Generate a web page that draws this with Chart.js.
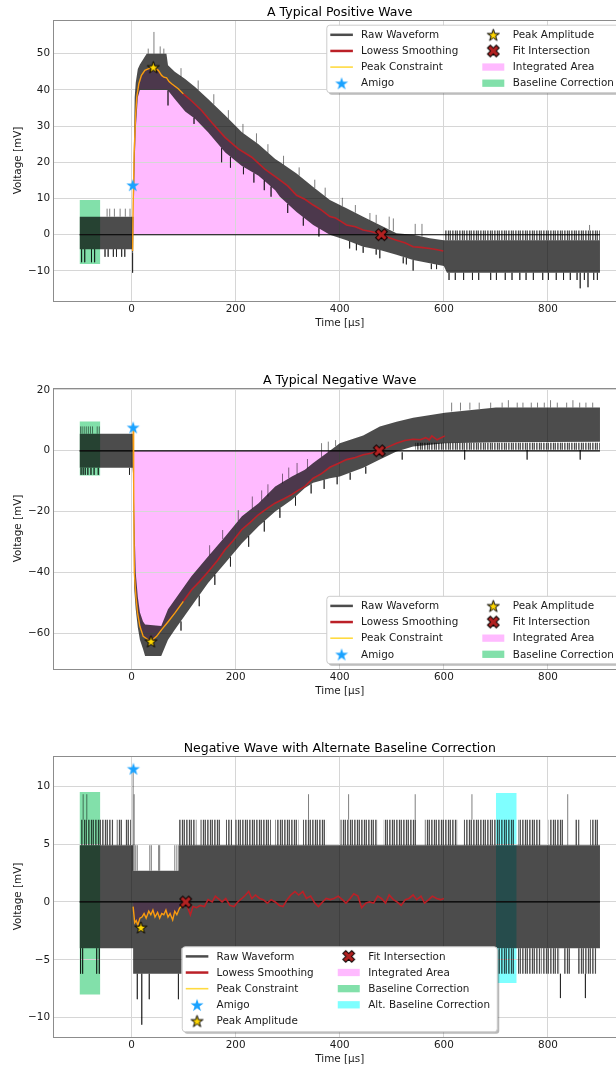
<!DOCTYPE html>
<html lang="en">
<head>
<meta charset="UTF-8">
<title>Waveform Analysis</title>
<script src="https://cdn.jsdelivr.net/npm/chart.js"></script>
<style>
  html, body { margin: 0; padding: 0; background: #fff; overflow: hidden; }
  #page { position: relative; width: 616px; height: 1068px; overflow: hidden; }
  #page canvas { position: absolute; left: 0; }
</style>
</head>
<body>
<div id="page">
  <canvas id="posChart" width="640" height="333" style="top:0px"></canvas>
  <canvas id="negChart" width="640" height="341" style="top:360px"></canvas>
  <canvas id="altChart" width="640" height="339" style="top:730px"></canvas>
</div>
<script>
// ---------- A Typical Positive Wave ----------
const posYTicks = [-10, 0, 10, 20, 30, 40, 50];
const posBandT  = [-100, 1, 2, 3, 4, 6, 8, 12, 16, 29, 67, 70, 83, 103, 122, 147, 180, 212, 244, 276, 285, 317, 349, 381, 413, 445, 477, 509, 541, 573, 600, 606, 900];
const posBandLo = [-4, -4, -5, -5, 5, 20, 29, 38, 40, 40, 40, 39.8, 37.5, 34, 32, 28.3, 22.7, 19, 16.3, 12.3, 10.5, 6.3, 2.7, 0, -1.5, -3.3, -4.2, -5.5, -7, -7.9, -8.6, -10.5, -10.5];
const posBandHi = [5, 5, 5, 5, 20, 38, 42, 45.8, 47, 50, 50, 46.8, 45, 43, 40.8, 37.5, 32.9, 28.3, 25, 20.9, 20.1, 16.9, 13.2, 9.6, 7.3, 5, 2.7, 0.4, 0, -1, -1.5, -1.5, -1.5];
const posConstraintT = [2, 3, 5, 7.7, 10, 14, 19, 25.6, 32, 41.7, 51.3, 57.7, 62, 67.3, 72, 77, 89.7, 99.4];
const posConstraintV = [-4.5, 8, 22.7, 32.9, 38, 41.7, 44, 45.4, 45.8, 46.3, 45.4, 44, 43.5, 43.3, 42.3, 41.7, 40.3, 38.9];
const posLowessT = [99.4, 115, 134.6, 154, 179.5, 205, 231, 256, 282, 300, 317, 333, 349, 365, 381, 392, 400, 413, 430, 445, 462, 480, 495, 509, 525, 541, 556, 573, 585, 599];
const posLowessV = [38.9, 37, 34.3, 31, 26.9, 23.7, 21.4, 18.1, 15.4, 13.5, 10.9, 9.8, 8.2, 6.8, 5, 4.6, 3.9, 2.7, 2.2, 1.3, 0.8, 0, -0.8, -1.5, -2.2, -3.3, -3.5, -3.8, -4.1, -4.5];
// [time, from, to] of the single noise spikes that stick out of the band
const posSpikes = [
  [-96, -4, -7.6], [-90, -4, -7.6], [-77, -4, -7.6], [-71, -4, -7.6],
  [-51, -4, -6.1], [-45, -4, -6.1], [-35, -4, -6.1], [-29, -4, -6.1], [-19, -4, -6.1], [-13, -4, -6.1],
  [-47, 5, 7.2], [-42, 5, 7.2], [-33, 5, 7.2], [-22, 5, 7.2], [-12, 5, 7.2], [-3, 5, 7.2],
  [2, -5, -10.5],
  [32, 50, 51.4], [43, 50, 56], [55, 50, 52], [62, 50, 51.4],
  [95, 43.6, 46], [128, 40, 42.6], [158, 36, 38.8], [186, 32, 34.4], [214, 28, 30.6], [240, 25.4, 28],
  [262, 22.6, 25], [292, 19.3, 21.8], [322, 16.3, 18.6], [352, 12.9, 15.2], [372, 10.6, 13], [405, 7.9, 10.2],
  [430, 6.1, 8.2], [458, 4, 6], [470, 3.2, 5.5],
  [70, 39.8, 35.7], [120, 32.3, 30.6], [173, 23.9, 20], [190, 21.5, 18.5], [215, 18.7, 16.7], [235, 17, 14.4],
  [255, 15, 12.3], [268, 13.3, 10.5], [300, 8.5, 6], [330, 4.8, 2.5], [360, 1.8, -0.5],
  [419, -1.8, -3.8], [432, -2.5, -4.3], [445, -3.3, -5], [470, -4, -5.5], [477, -4.2, -6.5], [522, -6.2, -7.9],
  [528, -6.4, -8.2], [541, -7, -9.9], [576, -8, -9.5], [586, -8.2, -9.5],
  [495, 1.5, 5], [503, 1, 4.5], [545, 0, 3], [558, -0.5, 3], [880, 1.2, 2.7],
  [610, -10.5, -12.5], [622, -10.5, -12.5], [638, -10.5, -12.5], [655, -10.5, -12.5], [667, -10.5, -12.5],
  [690, -10.5, -12.5], [701, -10.5, -12.5], [718, -10.5, -12.5], [731, -10.5, -12.5], [746, -10.5, -12.5],
  [758, -10.5, -12.5], [772, -10.5, -12.5], [790, -10.5, -12.5], [801, -10.5, -12.5], [816, -10.5, -12.5],
  [830, -10.5, -12.5], [843, -10.5, -12.5], [856, -10.5, -12.5], [870, -10.5, -12.5], [888, -10.5, -12.5],
  [895, -10.5, -12.5], [862, -10.5, -14.8], [877, -10.5, -14.5]
];
// dense spike zones: [start, end, edge, base]
const posZones = [[600, 900, 1.2, -1.5]];
const posAmigo = [2.3, 13.7];
const posPeak = [41.7, 46.3];
const posFit = [480, 0];
const posBaseline = [-100, -60, -8.1, 9.6];

// ---------- A Typical Negative Wave ----------
const negYTicks = [-60, -40, -20, 0, 20];
const negBandT  = [-100, 2, 3, 5, 8, 12, 16, 22, 26, 57, 70, 83, 115, 147, 180, 212, 244, 276, 308, 333, 349, 381, 400, 445, 477, 509, 541, 602, 700, 900];
const negBandLo = [-5.6, -5.6, -8, -45, -52, -58, -62, -65, -67.3, -67.3, -62, -58.7, -51, -43.4, -36.8, -30.3, -24.8, -19.9, -16.1, -12.2, -10.5, -9, -8.4, -5.6, -2.9, -0.2, 1.4, 2.5, 2.8, 3];
const negBandHi = [5.6, 5.6, 5.6, -20, -40, -48, -53, -56, -57, -57.5, -52, -48.9, -41.2, -34.7, -28.1, -21.5, -17.2, -11.7, -8.4, -6.2, -4, 0, 2.5, 5, 8, 9.5, 10.8, 12.5, 14.2, 14.2];
const negConstraintT = [3, 4, 5.3, 8.3, 11.5, 16, 22.4, 32, 37.3, 48, 57.8, 70.6, 83.4, 99.4];
const negConstraintV = [7.5, -10, -40, -47.8, -53.2, -57.6, -60.9, -62, -62.5, -60.9, -58.7, -56, -53.2, -49.4];
const negLowessT = [99.4, 115.4, 130, 147.5, 165, 179.5, 195, 211.5, 228, 243.5, 260, 275.5, 292, 307.5, 320, 333, 349, 365, 381, 397, 413, 430, 445, 460, 476, 492, 509, 525, 541, 555, 565, 572, 577, 587, 602];
const negLowessV = [-49.4, -45.6, -43, -39.6, -36, -32.5, -29.5, -25.9, -23.5, -21, -19, -17.2, -15.8, -14.4, -13, -11.7, -9, -7.5, -5.4, -4.2, -2.9, -2.2, -1.3, -0.8, 0, 1.2, 2.5, 3.4, 3.8, 3.6, 4.3, 3.6, 4.9, 3.6, 4.9];
const negSpikes = [
  [-98, 5.6, 8], [-95, 5.6, 8], [-91, 5.6, 8], [-87, 5.6, 8], [-83, 5.6, 8], [-79, 5.6, 8], [-75, 5.6, 8], [-66, 5.6, 8], [-62, 5.6, 8],
  [-97, -5.6, -7.9], [-93, -5.6, -7.9], [-89, -5.6, -7.9], [-84, -5.6, -7.9], [-78, -5.6, -7.9], [-72, -5.6, -7.9], [-64, -5.6, -7.9], [-4, -5.6, -7.9],
  [150, -34.3, -31], [175, -29, -26], [205, -23, -19.5], [232, -19, -15], [250, -16.4, -13], [262, -15, -11],
  [290, -10.7, -7.5], [302, -9, -5.5], [318, -7.8, -4], [338, -5.8, -2.7], [365, -2, 2.5], [378, -0.5, 3], [392, 1.5, 3.5],
  [95, -56, -59], [130, -47.5, -51], [160, -40.7, -44], [190, -34.8, -38], [225, -28, -31.5], [255, -23, -26.5],
  [285, -18.8, -22], [315, -15, -18], [345, -11, -14], [370, -9.5, -12.5], [395, -8.5, -11], [420, -7.2, -9.5], [450, -5.2, -7.5],
  [615, 12.9, 15.8], [632, 13.2, 15.8], [650, 13.5, 15.8], [668, 13.7, 15.8], [690, 14, 15.8], [712, 14.2, 15.8],
  [724, 14.2, 16.6], [741, 14.2, 15.8], [752, 14.2, 15.8], [768, 14.2, 15.8], [780, 14.2, 15.8], [793, 14.2, 15.8],
  [805, 14.2, 16.6], [818, 14.2, 15.8], [836, 14.2, 15.8], [848, 14.2, 16.6], [861, 14.2, 15.8], [873, 14.2, 15.8], [886, 14.2, 15.8],
  [520, -0.5, -2.9], [640, 0.3, -2.9], [760, 0.3, -2.9], [862, 0.3, -2.9]
];
const negZones = [[545, 900, 0.3, 2.6]];
const negAmigo = [3, 7.7];
const negPeak = [37.3, -62.5];
const negFit = [476, 0];
const negBaseline = [-100, -60, -8.1, 9.6];

// ---------- Negative Wave with Alternate Baseline Correction ----------
const altYTicks = [-10, -5, 0, 5, 10];
const altBandT  = [-100, 3, 3, 90, 90, 96, 96, 900];
const altBandLo = [-4, -4, -6.2, -6.2, -6.2, -6.2, -4, -4];
const altBandHi = [4.9, 4.9, 2.7, 2.7, 4.9, 4.9, 4.9, 4.9];
const altConstraintT = [3, 6, 9, 12, 16, 20, 24, 28, 33, 37, 41, 45, 50, 54, 58, 62, 66, 70, 74, 79, 83, 87, 92, 97, 103];
const altConstraintV = [-0.4, -1.8, -1.6, -2.0, -1.4, -1.3, -1.0, -1.4, -0.8, -1.1, -0.7, -1.3, -0.9, -1.4, -1.0, -1.1, -0.7, -1.3, -1.0, -1.55, -0.8, -1.1, -0.55, -0.3, 0];
const altLowessT = [104, 113, 118, 125, 132, 140, 147, 155, 161, 166, 174, 181, 189, 197, 204, 212, 219, 225, 231, 238, 246, 253, 261, 268, 276, 284, 291, 299, 306, 314, 321, 329, 336, 344, 352, 359, 367, 374, 382, 389, 397, 405, 412, 420, 427, 435, 442, 450, 457, 465, 473, 480, 488, 495, 503, 510, 518, 526, 533, 541, 548, 556, 563, 571, 578, 586, 594, 600];
const altLowessV = [0, -1.1, -0.4, -0.5, -0.3, -0.4, 0.2, 0, 0.5, 0.3, 0, 0.3, -0.3, -0.4, 0, 0.3, 0.6, 0.9, 0.3, 0.6, 0.3, 0.2, -0.1, 0.2, 0, -0.3, -0.4, 0.2, 0.6, 0.9, 0.6, 0.9, 0.3, 0.5, -0.1, -0.4, 0, 0.3, 0.2, 0.3, 0.5, 0.2, -0.1, 0.3, 0.7, 0.5, -0.5, -0.1, 0, -0.1, 0.5, 0.3, -0.1, 0.6, 0.2, 0, -0.3, 0.2, 0.3, 0.6, 0.2, 0.5, -0.1, 0.2, 0.5, 0.3, 0.2, 0.3];
const altSpikes = [
  [3, 2.7, 11.3], [5, 2.7, 9.3],
  [-93, 7.1, 9.3], [-86, 7.1, 9.3], [340, 7.1, 9.3], [417, 7.1, 9.3], [545, 7.1, 9.3], [654, 7.1, 9.3], [838, 4.9, 9.3],
  [8, 2.7, 4.9], [11, 2.7, 4.9], [35, 2.7, 4.9], [38, 2.7, 4.9], [52, 2.7, 4.9], [54, 2.7, 4.9], [83, 2.7, 4.9], [87, 2.7, 4.9],
  [11, -6.2, -8.4], [34, -6.2, -8.4], [90, -6.2, -8.4], [19.6, -6.2, -10.6],
  [-98, -4, -6.2], [-94, -4, -6.2], [-67, -4, -6.2], [-62, -4, -6.2], [646, -4, -6.2],
  [824, -6.2, -8.3], [872, -6.2, -8.3]
];
const altUpStart = [-99, -29, -13, 90, 132, 181, 199, 276, 329, 401, 484, 563, 638, 743, 801, 852, 881];
const altUpEnd   = [-35, -18, -1, 125, 170, 193, 268, 321, 374, 473, 548, 626, 736, 786, 830, 861, 897];
const altDownStart = [703, 742, 787, 830, 856];
const altDownEnd   = [736, 786, 823, 843, 893];
const altZones = altUpStart.map((t, i) => [t, altUpEnd[i], 7.1, 4.9])
  .concat(altDownStart.map((t, i) => [t, altDownEnd[i], -6.2, -4]));
const altAmigo = [3.5, 11.5];
const altPeak = [18, -2.2];
const altFit = [104, 0];
const altBaseline = [-100, -60, -8, 9.5];
const altAltBaseline = [700, 740, -7, 9.4];

const xTicks = [0, 200, 400, 600, 800];

// ---------- styling ----------
Chart.defaults.font.family = "'DejaVu Sans', sans-serif";
Chart.defaults.font.size = 10.4;
Chart.defaults.color = '#1a1a1a';

const TEXT = '#1a1a1a';
const GRID = '#d6d6d6';
const SPINE = '#8c8c8c';
const RAW = 'rgba(0,0,0,0.7)';
const SPIKE = 'rgba(0,0,0,0.5)';
const LOWESS = '#bb2027';
const CONSTRAINT = '#fa9c0f';
const AREA = 'rgba(255,0,255,0.27)';
const BASE = 'rgba(46,204,113,0.6)';
const ALT = 'rgba(0,255,255,0.5)';

function starSprite(R, fill, stroke) {
  const c = document.createElement('canvas');
  c.width = c.height = Math.ceil(2 * R + 4);
  const g = c.getContext('2d');
  const cx = c.width / 2, cy = c.height / 2 + R * 0.1;
  g.beginPath();
  for (let i = 0; i < 10; i++) {
    const a = -Math.PI / 2 + i * Math.PI / 5;
    const r = i % 2 ? R * 0.382 : R;
    g.lineTo(cx + r * Math.cos(a), cy + r * Math.sin(a));
  }
  g.closePath();
  g.fillStyle = fill;
  g.fill();
  if (stroke) { g.lineWidth = 1; g.strokeStyle = stroke; g.stroke(); }
  return c;
}

function xSprite(s, fill, stroke) {
  const c = document.createElement('canvas');
  c.width = c.height = Math.ceil(s + 4);
  const g = c.getContext('2d');
  g.translate(c.width / 2, c.height / 2);
  g.rotate(Math.PI / 4);
  const a = s / 2, b = s / 6;
  g.beginPath();
  [[-b, -a], [b, -a], [b, -b], [a, -b], [a, b], [b, b], [b, a], [-b, a], [-b, b], [-a, b], [-a, -b], [-b, -b]]
    .forEach(([x, y]) => g.lineTo(x, y));
  g.closePath();
  g.fillStyle = fill;
  g.fill();
  g.lineWidth = 1; g.strokeStyle = stroke; g.stroke();
  return c;
}

const amigoStar = starSprite(6.8, '#1aa2ff');
const peakStar = starSprite(6.3, '#ffd700', '#000');
const fitCross = xSprite(12.5, '#b22222', '#000');

function stripes() {
  const alphas = [0.7, 0.3, 0.65, 0, 0.6, 0.4, 0.1];
  const c = document.createElement('canvas');
  c.width = alphas.length; c.height = 4;
  const g = c.getContext('2d');
  alphas.forEach((a, i) => { g.fillStyle = 'rgba(0,0,0,' + a + ')'; g.fillRect(i, 0, 1, 4); });
  return g.createPattern(c, 'repeat');
}
const spikePattern = stripes();

const pts = (xs, ys) => xs.map((x, i) => ({ x, y: ys[i] }));

function spikeData(list) {
  const out = [];
  list.forEach(([t, a, b]) => out.push({ x: t, y: a }, { x: t, y: b }, { x: t, y: null }));
  return out;
}

function zoneData(list, edge) {
  const out = [];
  list.filter(z => z[2] === edge).forEach(([t0, t1, e]) => out.push({ x: t0, y: e }, { x: t1, y: e }, { x: t1, y: null }));
  return out;
}

const LEGEND = {
  raw: { label: 'Raw Waveform', kind: 'line', color: RAW, width: 2.5 },
  lowess: { label: 'Lowess Smoothing', kind: 'line', color: LOWESS, width: 2.5 },
  constraint: { label: 'Peak Constraint', kind: 'line', color: 'rgba(255,205,0,0.75)', width: 1.6 },
  amigo: { label: 'Amigo', kind: 'sprite', sprite: amigoStar },
  peak: { label: 'Peak Amplitude', kind: 'sprite', sprite: peakStar },
  fit: { label: 'Fit Intersection', kind: 'sprite', sprite: fitCross },
  area: { label: 'Integrated Area', kind: 'rect', color: AREA },
  base: { label: 'Baseline Correction', kind: 'rect', color: BASE },
  alt: { label: 'Alt. Baseline Correction', kind: 'rect', color: ALT }
};

function roundRect(ctx, x, y, w, h, r) {
  ctx.beginPath();
  ctx.moveTo(x + r, y);
  ctx.arcTo(x + w, y, x + w, y + h, r);
  ctx.arcTo(x + w, y + h, x, y + h, r);
  ctx.arcTo(x, y + h, x, y, r);
  ctx.arcTo(x, y, x + w, y, r);
  ctx.closePath();
}

function drawLegend(ctx, area, lg) {
  let x, y;
  if (lg.anchor === 'ne') { x = area.right - 5.2 - lg.w; y = area.top + 5.2; }
  else if (lg.anchor === 'se') { x = area.right - 5.2 - lg.w; y = area.bottom - 5.2 - lg.h; }
  else { x = (area.left + area.right) / 2 - lg.w / 2; y = area.bottom - 5.2 - lg.h; }
  ctx.save();
  roundRect(ctx, x + 2, y + 2, lg.w, lg.h, 3);
  ctx.fillStyle = 'rgba(77,77,77,0.4)';
  ctx.fill();
  roundRect(ctx, x, y, lg.w, lg.h, 3);
  ctx.fillStyle = '#fff';
  ctx.fill();
  ctx.strokeStyle = '#cccccc';
  ctx.lineWidth = 1;
  ctx.stroke();
  ctx.font = '10.4px "DejaVu Sans"';
  ctx.textBaseline = 'middle';
  ctx.textAlign = 'left';
  lg.cols.forEach((col, ci) => {
    const cx = x + (ci === 0 ? 14.8 : 166.5);
    col.forEach((key, ri) => {
      const it = LEGEND[key];
      const cy = y + 9.6 + 16.15 * ri;
      if (it.kind === 'line') {
        ctx.strokeStyle = it.color; ctx.lineWidth = it.width;
        ctx.beginPath(); ctx.moveTo(cx - 11.3, cy); ctx.lineTo(cx + 11.3, cy); ctx.stroke();
      } else if (it.kind === 'rect') {
        ctx.fillStyle = it.color;
        ctx.fillRect(cx - 11, cy - 3.7, 22, 7.3);
      } else {
        ctx.drawImage(it.sprite, cx - it.sprite.width / 2, cy - it.sprite.height / 2);
      }
      ctx.fillStyle = TEXT;
      ctx.fillText(it.label, cx + 19.5, cy + 0.5);
    });
  });
  ctx.restore();
}

function makeWaveChart(id, c) {
  const curve = pts(c.constraintT, c.constraintV).concat(pts(c.lowessT, c.lowessV));
  const area = curve.filter(p => p.x >= c.areaFrom && p.x <= c.fit[0]);
  const line = { pointRadius: 0, pointHoverRadius: 0, fill: false, tension: 0 };
  const ds = [];
  ds.push({ ...line, label: 'Integrated Area', data: area, fill: { value: 0 }, backgroundColor: AREA, borderWidth: 0, order: 20 });
  ds.push({ ...line, label: 'Baseline Correction', data: pts([c.base[0], c.base[1]], [c.base[3], c.base[3]]),
    fill: { value: c.base[2] }, backgroundColor: BASE, borderWidth: 0, order: 19 });
  if (c.alt) {
    ds.push({ ...line, label: 'Alt. Baseline Correction', data: pts([c.alt[0], c.alt[1]], [c.alt[3], c.alt[3]]),
      fill: { value: c.alt[2] }, backgroundColor: ALT, borderWidth: 0, order: 18 });
  }
  ds.push({ ...line, label: 'band low', data: pts(c.bandT, c.bandLo), borderWidth: 0, order: 17, gridBefore: true });
  ds.push({ ...line, label: 'Raw Waveform', data: pts(c.bandT, c.bandHi), borderWidth: 0, fill: '-1', backgroundColor: RAW, order: 16 });
  const edges = [...new Set(c.zones.map(z => z[2]))];
  edges.forEach(e => {
    const base = c.zones.find(z => z[2] === e)[3];
    ds.push({ ...line, label: 'zone', data: zoneData(c.zones, e), spanGaps: false, fill: { value: base },
      backgroundColor: spikePattern, borderWidth: 0, order: 15 });
  });
  ds.push({ ...line, label: 'spikes', data: spikeData(c.spikes), spanGaps: false, borderColor: SPIKE, borderWidth: 1, order: 14 });
  ds.push({ ...line, label: 'zero', data: [{ x: -100, y: 0 }, { x: 900, y: 0 }], borderColor: '#000', borderWidth: 1.2, order: 13 });
  ds.push({ ...line, label: 'Lowess Smoothing', data: pts(c.lowessT, c.lowessV), borderColor: LOWESS, borderWidth: 1.6, order: 12 });
  ds.push({ ...line, label: 'Peak Constraint', data: pts(c.constraintT, c.constraintV), borderColor: CONSTRAINT, borderWidth: 1.4, order: 11 });
  const marker = (label, p, sprite, order) => ({ label, data: [{ x: p[0], y: p[1] }], showLine: false,
    pointStyle: sprite, pointRadius: 6, pointHoverRadius: 6, order });
  ds.push(marker('Fit Intersection', c.fit, fitCross, 3));
  ds.push(marker('Peak Amplitude', c.peak, peakStar, 2));
  ds.push(marker('Amigo', c.amigo, amigoStar, 1));

  const decor = {
    id: 'decor',
    beforeDatasetDraw(chart, args) {
      if (chart.data.datasets[args.index].gridBefore) {
        chart.scales.x.drawGrid(chart.chartArea);
        chart.scales.y.drawGrid(chart.chartArea);
      }
    },
    afterDraw(chart) {
      const ctx = chart.ctx, a = chart.chartArea;
      ctx.save();
      ctx.strokeStyle = SPINE; ctx.lineWidth = 1;
      ctx.beginPath(); ctx.moveTo(a.left, a.top + 0.5); ctx.lineTo(a.right, a.top + 0.5); ctx.stroke();
      ctx.fillStyle = '#000';
      ctx.font = '12.5px "DejaVu Sans"';
      ctx.textAlign = 'center';
      ctx.textBaseline = 'alphabetic';
      ctx.fillText(c.title, (a.left + a.right) / 2, a.top - 4);
      ctx.restore();
      drawLegend(ctx, a, c.legend);
    }
  };

  const tickFmt = v => (v < 0 ? '\u2212' + Math.abs(v) : String(v));
  return new Chart(document.getElementById(id), {
    type: 'line',
    data: { datasets: ds },
    plugins: [decor],
    options: {
      responsive: false,
      animation: false,
      devicePixelRatio: 1,
      events: [],
      layout: { padding: { top: c.padTop, left: 0, right: 14, bottom: 0 } },
      plugins: { legend: { display: false }, tooltip: { enabled: false } },
      scales: {
        x: {
          type: 'linear', min: -150, max: 950,
          afterBuildTicks: s => { s.ticks = xTicks.map(v => ({ value: v })); },
          afterFit: s => { s.height = 32; },
          grid: { color: GRID, lineWidth: 1, drawTicks: false },
          border: { color: SPINE, width: 1 },
          ticks: { padding: 2, color: TEXT, font: { size: 10.4 }, callback: tickFmt },
          title: { display: true, text: 'Time [\u03bcs]', color: TEXT, font: { size: 10.4 }, padding: { top: 0, bottom: 3 } }
        },
        y: {
          type: 'linear', min: c.yMin, max: c.yMax,
          afterBuildTicks: s => { s.ticks = c.yTicks.map(v => ({ value: v })); },
          afterFit: s => { s.width = 53.5; },
          grid: { color: GRID, lineWidth: 1, drawTicks: false },
          border: { color: SPINE, width: 1 },
          ticks: { padding: 3.5, color: TEXT, font: { size: 10.4 }, callback: tickFmt },
          title: { display: true, text: 'Voltage [mV]', color: TEXT, font: { size: 10.4 }, padding: { top: 12.5, bottom: 0 } }
        }
      }
    }
  });
}

makeWaveChart('posChart', {
  title: 'A Typical Positive Wave', padTop: 20, yMin: -18.3, yMax: 59.3, yTicks: posYTicks,
  bandT: posBandT, bandLo: posBandLo, bandHi: posBandHi,
  constraintT: posConstraintT, constraintV: posConstraintV, lowessT: posLowessT, lowessV: posLowessV,
  spikes: posSpikes, zones: posZones, amigo: posAmigo, peak: posPeak, fit: posFit, areaFrom: 3,
  base: posBaseline,
  legend: { anchor: 'ne', w: 294, h: 67.5, cols: [['raw', 'lowess', 'constraint', 'amigo'], ['peak', 'fit', 'area', 'base']] }
});

makeWaveChart('negChart', {
  title: 'A Typical Negative Wave', padTop: 28, yMin: -71.6, yMax: 20.6, yTicks: negYTicks,
  bandT: negBandT, bandLo: negBandLo, bandHi: negBandHi,
  constraintT: negConstraintT, constraintV: negConstraintV, lowessT: negLowessT, lowessV: negLowessV,
  spikes: negSpikes, zones: negZones, amigo: negAmigo, peak: negPeak, fit: negFit, areaFrom: 4,
  base: negBaseline,
  legend: { anchor: 'se', w: 294, h: 67.5, cols: [['raw', 'lowess', 'constraint', 'amigo'], ['peak', 'fit', 'area', 'base']] }
});

makeWaveChart('altChart', {
  title: 'Negative Wave with Alternate Baseline Correction', padTop: 26, yMin: -11.66, yMax: 12.6, yTicks: altYTicks,
  bandT: altBandT, bandLo: altBandLo, bandHi: altBandHi,
  constraintT: altConstraintT, constraintV: altConstraintV, lowessT: altLowessT, lowessV: altLowessV,
  spikes: altSpikes, zones: altZones, amigo: altAmigo, peak: altPeak, fit: altFit, areaFrom: 3,
  base: altBaseline, alt: altAltBaseline,
  legend: { anchor: 's', w: 315, h: 85, cols: [['raw', 'lowess', 'constraint', 'amigo', 'peak'], ['fit', 'area', 'base', 'alt']] }
});
</script>
</body>
</html>
